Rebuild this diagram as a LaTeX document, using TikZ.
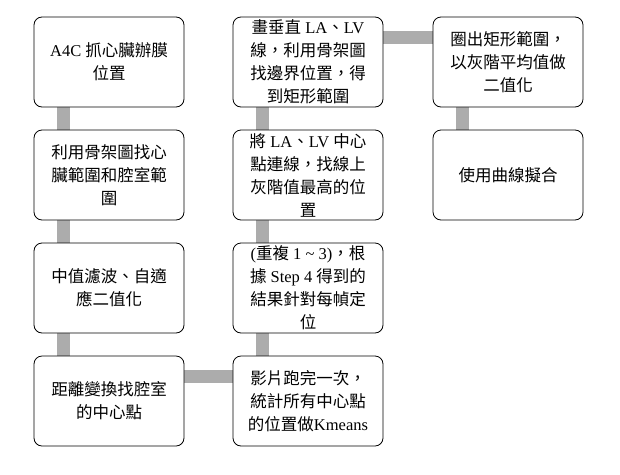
\documentclass[tikz,border=0pt]{standalone}
\usepackage{fontspec}
\setmainfont{Liberation Serif}
\newfontfamily\cjk{Noto Sans CJK TC}
\usepackage{xcolor}
\usetikzlibrary{backgrounds}

\newcommand{\zh}[1]{{\cjk #1}}

\begin{document}
\begin{tikzpicture}[x=1pt, y=-1pt,
  stepbox/.style={draw=black, line width=0.8pt, fill=white, rounded corners=8pt,
    minimum width=150pt, minimum height=90pt, align=center, inner sep=0pt,
    font=\fontsize{16.5}{23}\selectfont},
  bar/.style={draw=gray!65, line width=13pt}]
  \useasboundingbox (0,0) rectangle (620,474);

  \node[stepbox] (a1) at (109,62) {A4C \zh{抓心臟辦膜}\\\zh{位置}};
  \node[stepbox] (a2) at (109,175) {\zh{利用骨架圖找心}\\\zh{臟範圍和腔室範}\\\zh{圍}};
  \node[stepbox] (a3) at (109,288) {\zh{中值濾波、自適}\\\zh{應二值化}};
  \node[stepbox] (a4) at (109,401) {\zh{距離變換找腔室}\\\zh{的中心點}};

  \node[stepbox] (b4) at (308,401) {\zh{影片跑完一次，}\\\zh{統計所有中心點}\\\zh{的位置做}Kmeans};
  \node[stepbox] (b3) at (308,288) {(\zh{重複} 1 \textasciitilde{} 3)\zh{，根}\\\zh{據} Step 4 \zh{得到的}\\\zh{結果針對每幀定}\\\zh{位}};
  \node[stepbox] (b2) at (308,175) {\zh{將} LA\zh{、}LV \zh{中心}\\\zh{點連線，找線上}\\\zh{灰階值最高的位}\\\zh{置}};
  \node[stepbox] (b1) at (308,62) {\zh{畫垂直} LA\zh{、}LV\\\zh{線，利用骨架圖}\\\zh{找邊界位置，得}\\\zh{到矩形範圍}};

  \node[stepbox] (c1) at (508,62) {\zh{圈出矩形範圍，}\\\zh{以灰階平均值做}\\\zh{二值化}};
  \node[stepbox] (c2) at (508,175) {\zh{使用曲線擬合}};

  % gray links behind the boxes
  \begin{pgfonlayer}{background}
    \draw[bar] ([xshift=30pt]a1.south west) -- ([xshift=30pt]a2.north west);
    \draw[bar] ([xshift=30pt]a2.south west) -- ([xshift=30pt]a3.north west);
    \draw[bar] ([xshift=30pt]a3.south west) -- ([xshift=30pt]a4.north west);
    \draw[bar] ([yshift=-21pt]a4.north east) -- ([yshift=-21pt]b4.north west);
    \draw[bar] ([xshift=30pt]b4.north west) -- ([xshift=30pt]b3.south west);
    \draw[bar] ([xshift=30pt]b3.north west) -- ([xshift=30pt]b2.south west);
    \draw[bar] ([xshift=30pt]b2.north west) -- ([xshift=30pt]b1.south west);
    \draw[bar] ([yshift=-21pt]b1.north east) -- ([yshift=-21pt]c1.north west);
    \draw[bar] ([xshift=30pt]c1.south west) -- ([xshift=30pt]c2.north west);
  \end{pgfonlayer}
\end{tikzpicture}
\end{document}
